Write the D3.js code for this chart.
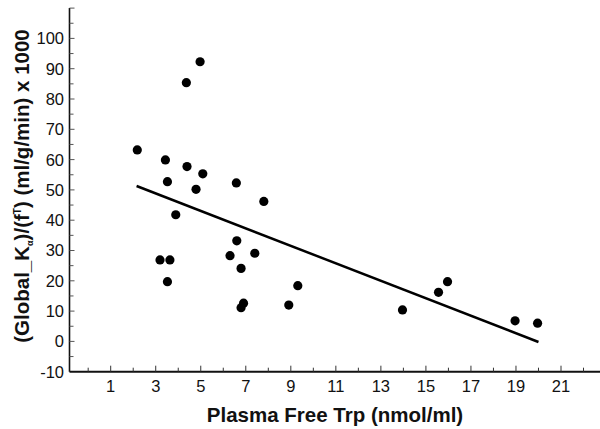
<!DOCTYPE html>
<html><head><meta charset="utf-8">
<script src="https://cdn.jsdelivr.net/npm/d3@7"></script>
<style>body{margin:0;background:#fff}svg{display:block}</style>
</head><body>
<svg id="c" width="600" height="429"></svg>
<script>
const xValues = [4.97,4.36,2.18,3.43,4.39,5.09,3.52,4.79,6.58,7.80,3.89,
  6.60,3.19,3.63,6.30,7.40,6.79,3.52,9.31,6.90,6.79,8.91,
  13.96,15.56,15.96,18.96,19.96];
const yValues = [92.3,85.4,63.2,59.9,57.7,55.3,52.7,50.2,52.3,46.2,41.8,
  33.2,26.9,26.9,28.3,29.1,24.1,19.7,18.4,12.6,11.1,12.0,
  10.4,16.2,19.7,6.8,6.0];
const fitX = [2.15, 20.0];
const fitY = [51.3, -0.2];
const xTickLabels = [1,3,5,7,9,11,13,15,17,19,21];
const yTickLabels = [-10,0,10,20,30,40,50,60,70,80,90,100];

const svg = d3.select("#c");
const font = "Liberation Sans, Arial, sans-serif";
const x = d3.scaleLinear().domain([1,21]).range([110.7,561]);
const y = d3.scaleLinear().domain([0,100]).range([341.4,38.4]);
const x0 = x.invert(69.5), x1 = x.invert(600);
const y0 = -10, y1 = y.invert(8);

// x axis
const xMinor = d3.range(0, 23, 1);
const gx = svg.append("g").attr("transform", `translate(0,${y(y0)})`);
gx.append("line").attr("x1", x(x0)).attr("x2", x(x1)).attr("stroke","#111").attr("stroke-width",2);
gx.selectAll(".mt").data(xMinor).enter().append("line")
  .attr("x1", d=>x(d)).attr("x2", d=>x(d)).attr("y1",0)
  .attr("y2", d=> xTickLabels.includes(d) ? -6 : -4)
  .attr("stroke","#333").attr("stroke-width",1);
gx.selectAll(".tl").data(xTickLabels).enter().append("text")
  .attr("x", d=>x(d)).attr("y", 20.5).attr("text-anchor","middle")
  .attr("font-family",font).attr("font-size",16.5).attr("fill","#111").text(d=>d);

// y axis
const yMinor = d3.range(-10, 111, 5);
const gy = svg.append("g").attr("transform", `translate(${x(x0)},0)`);
gy.append("line").attr("y1", y(y0)).attr("y2", y(y1)).attr("stroke","#111").attr("stroke-width",1.6);
gy.selectAll(".mt").data(yMinor.filter(d=>d>-10)).enter().append("line")
  .attr("y1", d=>y(d)).attr("y2", d=>y(d)).attr("x1",0)
  .attr("x2", d=> d%10===0 ? 5 : 4)
  .attr("stroke","#555").attr("stroke-width",1);
gy.selectAll(".tl").data(yTickLabels).enter().append("text")
  .attr("x", -5.5).attr("y", d=>y(d)).attr("dy","0.36em").attr("text-anchor","end")
  .attr("font-family",font).attr("font-size",16.5).attr("fill","#111").text(d=>d);

// fit line
svg.append("line")
  .attr("x1", x(fitX[0])).attr("y1", y(fitY[0]))
  .attr("x2", x(fitX[1])).attr("y2", y(fitY[1]))
  .attr("stroke","#000").attr("stroke-width",2.5);

// points
svg.selectAll(".pt").data(xValues.map((v,i)=>[v,yValues[i]])).enter().append("circle")
  .attr("cx", d=>x(d[0])).attr("cy", d=>y(d[1])).attr("r",4.6).attr("fill","#000");

// axis titles
svg.append("text").attr("x", 335).attr("y", 422).attr("text-anchor","middle")
  .attr("font-family",font).attr("font-weight","bold").attr("font-size",20.5).attr("fill","#111")
  .text("Plasma Free Trp (nmol/ml)");

const yt = svg.append("text").attr("transform","translate(29,186) rotate(-90)")
  .attr("text-anchor","middle").attr("font-family",font).attr("font-weight","bold")
  .attr("font-size",20.5).attr("fill","#111");
yt.append("tspan").text("(Global_K");
yt.append("tspan").attr("font-size",9).attr("dy",4).text("α");
yt.append("tspan").attr("dy",-4).text(")/(f");
yt.append("tspan").attr("font-size",10).attr("dy",-8).text("T");
yt.append("tspan").attr("dy",8).text(") (ml/g/min) x 1000");
</script>
</body></html>
